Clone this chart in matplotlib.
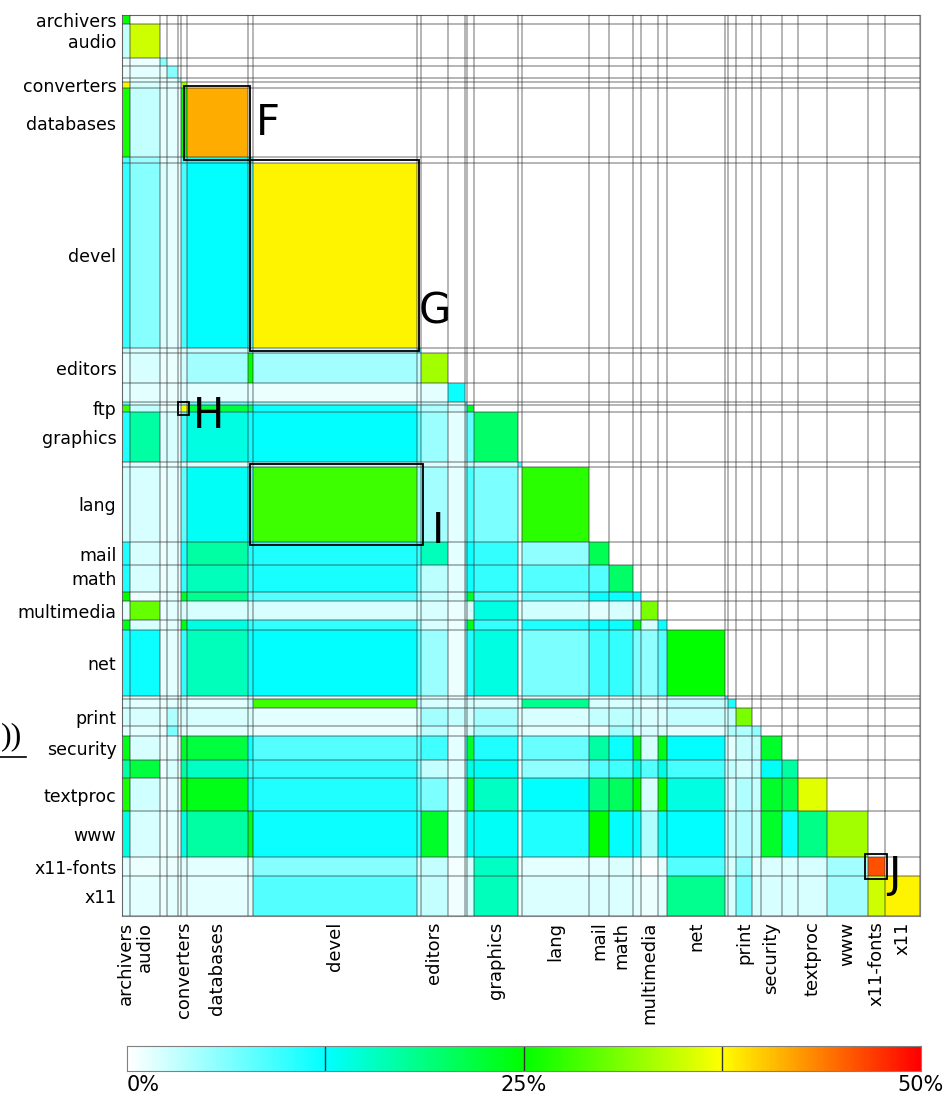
import numpy as np
import matplotlib
matplotlib.use('Agg')
import matplotlib.pyplot as plt
from matplotlib import font_manager
from matplotlib.colors import LinearSegmentedColormap
from matplotlib.patches import Rectangle
from matplotlib.lines import Line2D

# category order along both axes; '' = small unlabeled category
names = ['archivers', 'audio', '', '', '', 'converters', 'databases', '', 'devel', '',
         'editors', '', '', 'ftp', 'graphics', '', 'lang', 'mail', 'math', '',
         'multimedia', '', 'net', '', '', 'print', '', 'security', '', 'textproc',
         'www', 'x11-fonts', 'x11']
# categories left unlabeled on the x axis
no_xlabel = ['ftp']

# relative size of each category (sets the cell widths)
sizes = [8, 30, 7, 11, 3, 6, 61, 5, 164, 4,
         27, 17, 2, 7, 44, 4, 67, 20, 24, 8,
         17, 9, 58, 3, 8, 16, 9, 21, 16, 29,
         41, 17, 35]

# percentage per cell, lower triangle (row i holds columns 0..i)
pct = [
    [25],
    [3, 35],
    [1, 1, 6],
    [1, 1.5, 1.5, 6],
    [1, 1.5, 1, 1.5, 5],
    [38, 2, 1, 1.5, 1, 33],
    [26, 3, 1.5, 1.5, 1, 25, 41.5],
    [9, 5, 1.5, 1.5, 1, 9, 12, 12],
    [10, 6, 2, 1.5, 1, 9, 12.5, 10, 38],
    [3, 2, 1, 1, 1, 2, 3, 5, 3, 10],
    [1.5, 2, 1, 1, 1, 2.5, 4.5, 25, 4.5, 3, 33],
    [1.5, 1.5, 1, 1, 1, 1.5, 1.5, 1.5, 1, 1.5, 1.5, 12],
    [8, 2, 1, 1, 1, 5, 8, 8, 6, 2, 3, 2, 10],
    [28, 3, 1, 1, 1, 37, 22, 20, 12, 5, 4, 2, 8, 23],
    [11, 17, 2, 2, 1, 9, 14, 12, 12.5, 8, 5, 1.5, 6, 8, 20],
    [2, 2, 1, 1, 1, 2, 2, 3, 3, 2, 2, 1, 2, 3, 3, 10],
    [2.5, 2, 1, 1.5, 1, 8, 13, 10, 28, 5, 4.5, 1.5, 7, 9, 6.5, 1, 27],
    [11, 2, 1, 1.5, 1, 11, 17, 11, 11, 10, 16, 1.5, 10, 12, 10, 1, 5.5, 21],
    [11, 2, 1, 1.5, 1, 10, 16, 10, 11.5, 6, 3.5, 1.5, 8, 12, 10, 1, 8.5, 8.5, 20],
    [25, 1, 1, 1.5, 1, 23, 18, 8, 8.5, 5, 3, 1.5, 10, 23, 8.5, 1, 7.5, 12, 12, 12],
    [1.5, 30, 1, 1.5, 1, 2, 2, 2, 2, 2, 2, 1, 2, 2, 14, 1, 2.5, 1.5, 2, 1.5, 31],
    [24, 2, 1, 1.5, 1, 24, 14, 10, 10, 5, 2, 1, 10, 24, 10, 1, 11, 12, 12, 24, 2, 12],
    [11, 12, 1.5, 1.5, 1, 10, 16, 12, 12.5, 8, 5, 1, 8, 11, 14, 1, 6.5, 9.5, 10, 6.5,
     5.5, 8.5, 25],
    [2, 2, 1, 1, 1, 2, 2, 2, 2, 2, 2, 1, 2, 2, 2, 1, 2, 2, 2, 2, 2, 2, 3, 10],
    [2, 1.5, 1, 1.5, 1, 2, 1.5, 3, 28, 3, 2, 1.5, 2, 2, 2, 1, 18, 2, 2, 2, 1.5, 2, 3, 3,
     11],
    [2.5, 2, 1, 4, 1, 2, 2, 2, 1.5, 2, 4.5, 3, 2, 2, 4.5, 1, 2, 3, 3.5, 3, 2, 2, 3, 2,
     3, 31],
    [1.5, 1.5, 1, 6.5, 1, 1.5, 1.5, 1.5, 1, 2, 3.5, 1, 2, 2, 4.5, 1, 1.5, 1, 4.5, 2, 2,
     2, 1.5, 2, 4, 4, 5.5],
    [24, 2, 1, 1.5, 1, 23, 22, 12, 8.5, 8, 9.5, 1.5, 10, 23, 11, 1, 7.5, 17, 12, 24, 2,
     24, 12.5, 2, 1.5, 3, 3, 23],
    [17, 22, 1, 2, 1, 17, 15.5, 10, 10, 6, 3, 1.5, 8, 14, 13, 1, 5.5, 8.5, 9.5, 14, 8.5,
     14, 9, 2, 3, 2.5, 3, 13, 17],
    [26, 2.5, 1, 1.5, 1, 25, 24, 12, 11, 8, 6.5, 1.5, 10, 25, 15.5, 1, 12.5, 19, 20.5,
     25, 2, 25, 14, 2, 2, 4, 3, 23, 21, 36],
    [14, 2, 1, 1.5, 1, 14, 17, 24, 12, 10, 23, 1.5, 8, 13, 13, 1, 11, 25, 12.5, 12, 4,
     13, 12.5, 2, 3, 4, 3, 23, 12, 18.5, 33],
    [1.5, 1, 1, 1, 1, 1.5, 1.5, 1.5, 6, 2, 3, 0.7, 2, 2, 15.5, 1, 1.5, 1.5, 1.8, 1, 0.3,
     1.5, 8.5, 2, 2, 5.5, 1.5, 1.8, 1.8, 2, 4.5, 46],
    [1.5, 1.5, 1, 1.5, 1, 1.5, 1.5, 1.5, 8.5, 2, 3, 0.8, 2, 2, 16, 1, 1.8, 1.8, 1.8, 1.5,
     1, 1.5, 18, 2, 2, 7, 2, 2, 2, 2, 4.5, 35, 38],
]

# highlighted blocks: letter, (first row, last row), (first col, last col)
highlights = [
    ('F', (6, 6), (6, 6)),
    ('G', (8, 8), (8, 8)),
    ('H', (13, 13), (5, 5)),
    ('I', (16, 16), (8, 9)),
    ('J', (31, 31), (31, 31)),
]
# letter placement (data units)
letter_pos = {'F': (134, 96), 'G': (297, 263), 'H': (71, 355), 'I': (310, 457), 'J': (766, 762)}

cbar_ticks = [0, 25, 50]
cbar_labels = ['0%', '25%', '50%']

cmap = LinearSegmentedColormap.from_list(
    'pct', [(0, 'white'), (0.25, 'cyan'), (0.5, 'lime'), (0.75, 'yellow'), (1, 'red')])

installed = {f.name for f in font_manager.fontManager.ttflist}
narrow = 'Liberation Sans Narrow' if 'Liberation Sans Narrow' in installed else 'DejaVu Sans'

n = len(names)
bounds = np.concatenate([[0], np.cumsum(sizes)])
total = bounds[-1]
centers = (bounds[:-1] + bounds[1:]) / 2

M = np.full((n, n), np.nan)
for i, row in enumerate(pct):
    assert len(row) == i + 1, i
    M[i, :i + 1] = row

fig = plt.figure(figsize=(9.45, 10.94), dpi=100)
ax = fig.add_axes([122 / 945, 1 - 916 / 1094, 798 / 945, 901 / 1094])

ax.pcolormesh(bounds, bounds, np.ma.masked_invalid(M), cmap=cmap, vmin=0, vmax=50)
ax.set_xlim(0, total)
ax.set_ylim(total, 0)

for b in bounds:
    ax.axvline(b, color='0.2', alpha=0.36, lw=1.4, zorder=3)
    ax.axhline(b, color='0.2', alpha=0.36, lw=1.4, zorder=3)

ylab = [i for i, nm in enumerate(names) if nm]
xlab = [i for i in ylab if names[i] not in no_xlabel]
ax.set_xticks(centers[xlab])
ax.set_xticklabels([names[i] for i in xlab], rotation=90, fontsize=13)
ax.set_yticks(centers[ylab])
ax.set_yticklabels([names[i] for i in ylab], fontsize=12.5)
ax.tick_params(length=0, pad=4)
for s in ax.spines.values():
    s.set_color('0.5')

pad = 2.5
for letter, (r0, r1), (c0, c1) in highlights:
    x0, x1 = bounds[c0], bounds[c1 + 1]
    y0, y1 = bounds[r0], bounds[r1 + 1]
    ax.add_patch(Rectangle((x0 - pad, y0 - pad), x1 - x0 + 2 * pad, y1 - y0 + 2 * pad,
                           fill=False, ec='black', lw=1.3, zorder=5))
    tx, ty = letter_pos[letter]
    ax.text(tx, ty, letter, fontsize=30, ha='left', va='center', zorder=6)

# colour scale
cax = fig.add_axes([127 / 945, 1 - 1071 / 1094, 794 / 945, 25 / 1094])
grad = np.linspace(0, 50, 600)[None, :]
cax.imshow(grad, cmap=cmap, aspect='auto', extent=[0, 50, 0, 1], vmin=0, vmax=50)
for v in (12.5, 25, 37.5):
    cax.axvline(v, color='0.2', lw=1)
cax.set_xticks([])
cax.set_yticks([])
for s in cax.spines.values():
    s.set_color('0.5')

x_of = lambda v: (127 + v / 50 * 794) / 945
for v, t in zip(cbar_ticks, cbar_labels):
    fig.text(x_of(v), 1 - 1085 / 1094, t, ha='left' if v == 0 else 'center', va='center',
             fontsize=15, family=narrow)

# piece of the neighbouring formula at the left edge
fig.text(1 / 945, 1 - 737 / 1094, '))', fontsize=23, family='Liberation Serif',
         ha='left', va='center')
fig.add_artist(Line2D([0, 26 / 945], [1 - 757 / 1094] * 2, color='black', lw=1.2,
                      transform=fig.transFigure))

fig.savefig('out.png', dpi=100)
